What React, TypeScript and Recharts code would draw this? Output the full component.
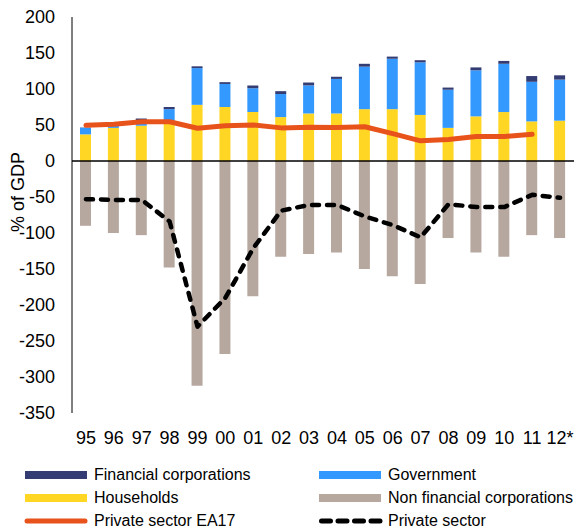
import React from 'react';
import { ComposedChart, Bar, Line, XAxis, YAxis, ReferenceLine, Legend } from 'recharts';

const years = ['95', '96', '97', '98', '99', '00', '01', '02', '03', '04', '05', '06', '07', '08', '09', '10', '11', '12*'];
const households = [37, 46, 49, 56, 78, 75, 68, 61, 66, 66, 72, 72, 64, 46, 62, 68, 55, 56];
const government = [9, 3, 7, 16, 51, 32, 33, 32, 39, 48, 59, 70, 73, 53, 64, 67, 55, 57];
const financial = [0.5, 2, 3, 3, 2.5, 2.5, 4, 4, 4, 3, 4, 3, 3, 3, 4, 4, 8, 6];
const nonFinancial = [-90, -100, -103, -148, -312, -268, -188, -133, -129, -127, -150, -160, -171, -107, -127, -133, -103, -107];
const privateEA17: (number | null)[] = [49.5, 51, 54.5, 54.5, 45.5, 49, 50, 46, 47, 46.5, 47.5, 38, 28, 30, 34, 34, 37, null];
const privateSector = [-53, -54, -54, -84, -230, -190, -121, -69, -61, -61, -77, -89, -106, -60, -64, -64, -47, -51];
const yTicks = [200, 150, 100, 50, 0, -50, -100, -150, -200, -250, -300, -350];

const data = years.map((y, i) => ({
  year: y,
  households: households[i],
  government: government[i],
  financial: financial[i],
  nonFinancial: nonFinancial[i],
  privateEA17: privateEA17[i],
  privateSector: privateSector[i],
}));

const COLORS = {
  financial: '#343D73',
  government: '#3399FF',
  households: '#FFD624',
  nonFinancial: '#B6A89F',
  ea17: '#E8531C',
  priv: '#000000',
};

const FONT = '"Liberation Sans", Arial, sans-serif';

const legendItems = [
  { label: 'Financial corporations', color: COLORS.financial, kind: 'bar', col: 0, row: 0 },
  { label: 'Government', color: COLORS.government, kind: 'bar', col: 1, row: 0 },
  { label: 'Households', color: COLORS.households, kind: 'bar', col: 0, row: 1 },
  { label: 'Non financial corporations', color: COLORS.nonFinancial, kind: 'bar', col: 1, row: 1 },
  { label: 'Private sector EA17', color: COLORS.ea17, kind: 'line', col: 0, row: 2 },
  { label: 'Private sector', color: COLORS.priv, kind: 'dash', col: 1, row: 2 },
];

const LegendContent = () => {
  const colX = [25, 319];
  const rowY = [12, 35, 58];
  return (
    <div style={{ position: 'relative', width: 576, height: 66, fontFamily: FONT, fontSize: 16, color: '#000' }}>
      {legendItems.map((it) => {
        const x = colX[it.col];
        const y = rowY[it.row];
        return (
          <div key={it.label}>
            <svg style={{ position: 'absolute', left: x - 2, top: y - 5 }} width={66} height={10}>
              {it.kind === 'bar' && <rect x={2} y={1} width={62} height={8} fill={it.color} />}
              {it.kind === 'line' && (
                <line x1={4} y1={5} x2={62} y2={5} stroke={it.color} strokeWidth={5} strokeLinecap="round" />
              )}
              {it.kind === 'dash' && (
                <line x1={4.5} y1={5} x2={63} y2={5} stroke={it.color} strokeWidth={5} strokeLinecap="round" strokeDasharray="9 7.5" />
              )}
            </svg>
            <span style={{ position: 'absolute', left: x + 69, top: y - 10, lineHeight: '20px', whiteSpace: 'nowrap' }}>{it.label}</span>
          </div>
        );
      })}
    </div>
  );
};

const YLabel = () => {
  const cx = 18;
  const cy = 192;
  return (
    <text
      x={cx}
      y={cy}
      transform={`rotate(-90, ${cx}, ${cy})`}
      textAnchor="middle"
      dominantBaseline="central"
      fontFamily={FONT}
      fontSize={18}
      fill="#000"
    >
      % of GDP
    </text>
  );
};

export default function App() {
  return (
    <div style={{ position: 'absolute', left: 0, top: 0, width: 576, height: 529, background: '#fff' }}>
      <ComposedChart
        width={576}
        height={529}
        data={data}
        stackOffset="sign"
        margin={{ top: 17, right: 2, left: 0, bottom: 0 }}
      >
        <XAxis
          dataKey="year"
          axisLine={false}
          tickLine={false}
          tickSize={0}
          tickMargin={18}
          height={50}
          interval={0}
          tick={{ fill: '#000', fontSize: 18, fontFamily: FONT }}
        />
        <YAxis
          domain={[-350, 200]}
          ticks={yTicks}
          interval={0}
          width={72}
          axisLine={{ stroke: '#000', strokeWidth: 1 }}
          tickLine={false}
          tickSize={0}
          tickMargin={17}
          tick={{ fill: '#000', fontSize: 18, fontFamily: FONT }}
          label={<YLabel />}
        />
        <Bar dataKey="households" stackId="a" fill={COLORS.households} barSize={11} isAnimationActive={false} />
        <Bar dataKey="government" stackId="a" fill={COLORS.government} barSize={11} isAnimationActive={false} />
        <Bar dataKey="financial" stackId="a" fill={COLORS.financial} barSize={11} isAnimationActive={false} />
        <Bar dataKey="nonFinancial" stackId="a" fill={COLORS.nonFinancial} barSize={11} isAnimationActive={false} />
        <ReferenceLine y={0} stroke="#000" strokeWidth={1.5} />
        <Line
          dataKey="privateEA17"
          type="linear"
          stroke={COLORS.ea17}
          strokeWidth={5}
          strokeLinecap="round"
          strokeLinejoin="round"
          dot={false}
          activeDot={false}
          connectNulls={false}
          isAnimationActive={false}
        />
        <Line
          dataKey="privateSector"
          type="linear"
          stroke={COLORS.priv}
          strokeWidth={4.5}
          strokeDasharray="7 8"
          strokeLinecap="round"
          strokeLinejoin="round"
          dot={false}
          activeDot={false}
          isAnimationActive={false}
        />
        <Legend verticalAlign="bottom" align="left" wrapperStyle={{ left: 0, width: 576, height: 66 }} content={<LegendContent />} />
      </ComposedChart>
    </div>
  );
}
